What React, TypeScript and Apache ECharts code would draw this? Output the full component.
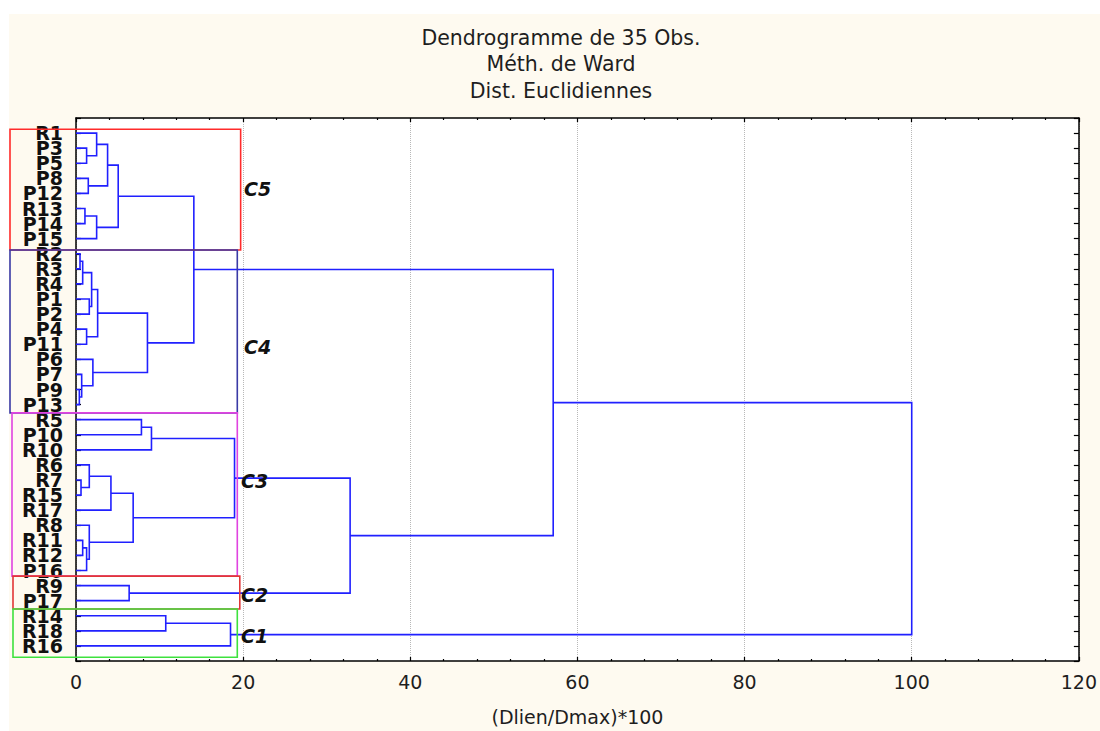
import React, { useEffect, useRef } from 'react';
import * as echarts from 'echarts';

// ---------- data ----------
const leaves = ['R1', 'P3', 'P5', 'P8', 'P12', 'R13', 'P14', 'P15', 'R2', 'R3', 'R4', 'P1', 'P2', 'P4', 'P11', 'P6', 'P7', 'P9', 'P13', 'R5', 'P10', 'R10', 'R6', 'R7', 'R15', 'R17', 'R8', 'R11', 'R12', 'P16', 'R9', 'P17', 'R14', 'R18', 'R16'];

// merges: [child A, child B, linkage distance]; merge k is referred to as "m{k}" (1-based)
const merges: [string, string, number][] = [
  ['P3', 'P5', 1.27],    // m1
  ['R1', 'm1', 2.47],    // m2
  ['P8', 'P12', 1.47],   // m3
  ['m2', 'm3', 3.78],    // m4
  ['R13', 'P14', 1.07],  // m5
  ['m5', 'P15', 2.47],   // m6
  ['m4', 'm6', 5.05],    // m7
  ['R2', 'R3', 0.48],    // m8
  ['m8', 'R4', 0.8],     // m9
  ['P1', 'P2', 1.59],    // m10
  ['m9', 'm10', 1.87],   // m11
  ['P4', 'P11', 1.27],   // m12
  ['m11', 'm12', 2.59],  // m13
  ['P9', 'P13', 0.4],    // m14
  ['P7', 'm14', 0.68],   // m15
  ['P6', 'm15', 2.02],   // m16
  ['m13', 'm16', 8.55],  // m17
  ['m7', 'm17', 14.1],   // m18
  ['R5', 'P10', 7.83],   // m19
  ['m19', 'R10', 9.03],  // m20
  ['R7', 'R15', 0.6],    // m21
  ['R6', 'm21', 1.59],   // m22
  ['m22', 'R17', 4.18],  // m23
  ['R11', 'R12', 0.8],   // m24
  ['m24', 'P16', 1.27],  // m25
  ['R8', 'm25', 1.59],   // m26
  ['m23', 'm26', 6.84],  // m27
  ['m20', 'm27', 18.97], // m28
  ['R9', 'P17', 6.36],   // m29
  ['m28', 'm29', 32.8],  // m30
  ['R14', 'R18', 10.74], // m31
  ['m31', 'R16', 18.49], // m32
  ['m18', 'm30', 57.1],  // m33
  ['m33', 'm32', 100],   // m34
];

const xTicks = [0, 20, 40, 60, 80, 100, 120];

const clusterNames = ['C5', 'C4', 'C3', 'C2', 'C1'];
const clusterTop = [-0.25, 7.75, 18.55, 29.37, 31.55];
const clusterBottom = [7.75, 18.55, 29.37, 31.55, 34.75];
const clusterRight = [19.7, 19.3, 19.3, 19.6, 19.3];
const clusterLabelX = [20.1, 20.1, 19.75, 19.75, 19.75];
const clusterLabelY = [3.72, 14.19, 23.04, 30.64, 33.35];

const titleLines = ['Dendrogramme de 35 Obs.', 'Méth. de Ward', 'Dist. Euclidiennes'];
const xAxisName = '(Dlien/Dmax)*100';

// ---------- styles ----------
const OX = 9;
const OY = 14;
const boxColors = ['#ff2b2b', '#3a3aa6', '#e044e0', '#e23636', '#3ee23e'];
const boxLeftPx = [10, 10, 12, 13, 13];
const LINE_BLUE = '#2020ff';
const FONT = 'DejaVu Sans';

export default function App() {
  const ref = useRef<HTMLDivElement>(null);

  useEffect(() => {
    const chart = echarts.init(ref.current!, null, { renderer: 'svg' });

    const pos: Record<string, { x: number; y: number }> = {};
    leaves.forEach((l, i) => (pos[l] = { x: 0, y: i }));
    const segs: { coords: number[][] }[] = [];
    merges.forEach(([a, b, h], i) => {
      const pa = pos[a];
      const pb = pos[b];
      segs.push({ coords: [[pa.x, pa.y], [h, pa.y], [h, pb.y], [pb.x, pb.y]] });
      pos['m' + (i + 1)] = { x: h, y: (pa.y + pb.y) / 2 };
    });

    const xMin = xTicks[0];
    const xMax = xTicks[xTicks.length - 1];
    const xInt = xTicks[1] - xTicks[0];

    const baseX = {
      type: 'value',
      min: xMin,
      max: xMax,
      interval: xInt,
      axisLine: { show: true, onZero: false, lineStyle: { color: '#000', width: 1.5 } },
      axisTick: { show: true, inside: true, length: 4, lineStyle: { color: '#000', width: 1.2 } },
      minorTick: { show: true, splitNumber: 5, length: 2, lineStyle: { color: '#000', width: 1.2 } },
    };
    const baseY = {
      type: 'value',
      min: -1,
      max: leaves.length,
      interval: 1,
      inverse: true,
      axisLine: { show: true, onZero: false, lineStyle: { color: '#000', width: 1.5 } },
      axisTick: { show: true, inside: true, length: 5, lineStyle: { color: '#000', width: 1.2 } },
      splitLine: { show: false },
    };

    const option: any = {
      animation: false,
      backgroundColor: '#fefaf0',
      title: {
        text: titleLines.join('\n'),
        left: 561 - OX,
        textAlign: 'center',
        top: 25 - OY,
        padding: 0,
        textStyle: {
          fontFamily: FONT,
          fontSize: 20.5,
          fontWeight: 'normal',
          lineHeight: 26.3,
          color: '#1e1e1e',
        },
      },
      grid: {
        left: 76 - OX,
        top: 118 - OY,
        width: 1006,
        height: 545,
        show: true,
        backgroundColor: '#ffffff',
        borderWidth: 0,
      },
      xAxis: [
        {
          ...baseX,
          position: 'bottom',
          name: xAxisName,
          nameLocation: 'middle',
          nameGap: 46,
          nameTextStyle: { fontFamily: FONT, fontSize: 19, color: '#1e1e1e' },
          axisLabel: { show: true, margin: 11, fontFamily: FONT, fontSize: 19, color: '#1e1e1e' },
          splitLine: { show: true, lineStyle: { color: '#b8b8b8', type: 'dotted', width: 1 } },
        },
        {
          ...baseX,
          position: 'top',
          axisLabel: { show: false },
          splitLine: { show: false },
        },
      ],
      yAxis: [
        {
          ...baseY,
          position: 'left',
          axisLabel: {
            show: true,
            margin: 13,
            fontFamily: FONT,
            fontWeight: 'bold',
            fontSize: 19,
            color: '#111',
            formatter: (v: number) => (leaves[v] !== undefined ? leaves[v] : ''),
          },
        },
        {
          ...baseY,
          position: 'right',
          axisLabel: { show: false },
        },
      ],
      series: [
        {
          type: 'lines',
          coordinateSystem: 'cartesian2d',
          xAxisIndex: 0,
          yAxisIndex: 0,
          polyline: true,
          data: segs,
          lineStyle: { color: LINE_BLUE, width: 1.6, opacity: 1 },
          silent: true,
        },
      ],
    };

    chart.setOption(option);

    const toPx = (x: number, y: number) =>
      chart.convertToPixel({ xAxisIndex: 0, yAxisIndex: 0 }, [x, y]) as number[];

    const graphic: any[] = [];
    clusterNames.forEach((name, i) => {
      const tl = toPx(clusterRight[i], clusterTop[i]);
      const br = toPx(clusterRight[i], clusterBottom[i]);
      const left = boxLeftPx[i] - OX;
      graphic.push({
        type: 'rect',
        silent: true,
        z: 10,
        shape: { x: left, y: tl[1], width: tl[0] - left, height: br[1] - tl[1] },
        style: { fill: 'none', stroke: boxColors[i], lineWidth: 1.6 },
      });
    });
    clusterNames.forEach((name, i) => {
      const p = toPx(clusterLabelX[i], clusterLabelY[i]);
      graphic.push({
        type: 'text',
        silent: true,
        z: 11,
        x: p[0],
        y: p[1],
        style: {
          text: name,
          fontFamily: FONT,
          fontSize: 19,
          fontWeight: 'bold',
          fontStyle: 'italic',
          fill: '#111',
          align: 'left',
          verticalAlign: 'middle',
        },
      });
    });
    chart.setOption({ graphic });

    return () => chart.dispose();
  }, []);

  return (
    <div style={{ position: 'absolute', left: 0, top: 0, width: 1100, height: 731, background: '#fff' }}>
      <div
        ref={ref}
        style={{ position: 'absolute', left: OX, top: OY, width: 1100 - OX, height: 731 - OY }}
      />
    </div>
  );
}
